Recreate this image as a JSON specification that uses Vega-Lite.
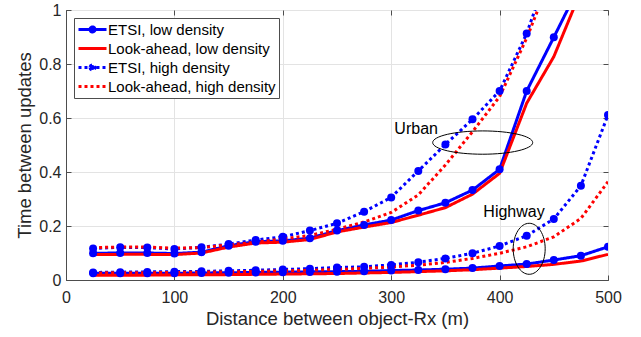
{
  "$schema": "https://vega.github.io/schema/vega-lite/v6.json",
  "width": 542,
  "height": 270,
  "autosize": {"type": "none"},
  "padding": {"left": 66, "top": 10, "right": 33, "bottom": 57},
  "background": "white",
  "config": {
    "view": {"stroke": "#4d4d4d", "strokeWidth": 1},
    "font": "Liberation Sans",
    "axis": {
      "domainColor": "#4d4d4d",
      "tickColor": "#4d4d4d",
      "gridColor": "#e3e3e3",
      "gridWidth": 1,
      "labelFont": "Liberation Sans",
      "labelFontSize": 16,
      "labelColor": "#262626",
      "titleFont": "Liberation Sans",
      "titleFontSize": 18.5,
      "titleFontWeight": "normal",
      "titleColor": "#262626",
      "tickSize": -5
    }
  },
  "datasets": {
    "curves": [
      {"x": 25, "uel": 0.099, "ull": 0.094, "ueh": 0.117, "ulh": 0.120, "hel": 0.025, "hll": 0.018, "heh": 0.028, "hlh": 0.026},
      {"x": 50, "uel": 0.100, "ull": 0.095, "ueh": 0.121, "ulh": 0.122, "hel": 0.025, "hll": 0.018, "heh": 0.029, "hlh": 0.027},
      {"x": 75, "uel": 0.100, "ull": 0.095, "ueh": 0.120, "ulh": 0.122, "hel": 0.025, "hll": 0.018, "heh": 0.030, "hlh": 0.027},
      {"x": 100, "uel": 0.098, "ull": 0.094, "ueh": 0.115, "ulh": 0.118, "hel": 0.025, "hll": 0.019, "heh": 0.031, "hlh": 0.028},
      {"x": 125, "uel": 0.103, "ull": 0.100, "ueh": 0.121, "ulh": 0.120, "hel": 0.026, "hll": 0.019, "heh": 0.032, "hlh": 0.029},
      {"x": 150, "uel": 0.127, "ull": 0.122, "ueh": 0.133, "ulh": 0.130, "hel": 0.027, "hll": 0.020, "heh": 0.034, "hlh": 0.030},
      {"x": 175, "uel": 0.142, "ull": 0.137, "ueh": 0.148, "ulh": 0.140, "hel": 0.028, "hll": 0.021, "heh": 0.036, "hlh": 0.032},
      {"x": 200, "uel": 0.145, "ull": 0.140, "ueh": 0.160, "ulh": 0.152, "hel": 0.029, "hll": 0.022, "heh": 0.039, "hlh": 0.034},
      {"x": 225, "uel": 0.155, "ull": 0.150, "ueh": 0.183, "ulh": 0.165, "hel": 0.030, "hll": 0.023, "heh": 0.042, "hlh": 0.036},
      {"x": 250, "uel": 0.183, "ull": 0.178, "ueh": 0.210, "ulh": 0.188, "hel": 0.031, "hll": 0.024, "heh": 0.046, "hlh": 0.039},
      {"x": 275, "uel": 0.204, "ull": 0.196, "ueh": 0.253, "ulh": 0.215, "hel": 0.032, "hll": 0.026, "heh": 0.049, "hlh": 0.043},
      {"x": 300, "uel": 0.222, "ull": 0.213, "ueh": 0.306, "ulh": 0.250, "hel": 0.035, "hll": 0.028, "heh": 0.056, "hlh": 0.048},
      {"x": 325, "uel": 0.257, "ull": 0.240, "ueh": 0.404, "ulh": 0.315, "hel": 0.037, "hll": 0.031, "heh": 0.066, "hlh": 0.055},
      {"x": 350, "uel": 0.286, "ull": 0.268, "ueh": 0.502, "ulh": 0.426, "hel": 0.040, "hll": 0.034, "heh": 0.080, "hlh": 0.065},
      {"x": 375, "uel": 0.333, "ull": 0.318, "ueh": 0.595, "ulh": 0.549, "hel": 0.044, "hll": 0.038, "heh": 0.099, "hlh": 0.080},
      {"x": 400, "uel": 0.410, "ull": 0.395, "ueh": 0.700, "ulh": 0.679, "hel": 0.052, "hll": 0.044, "heh": 0.126, "hlh": 0.099},
      {"x": 425, "uel": 0.700, "ull": 0.655, "ueh": 0.913, "ulh": 0.896, "hel": 0.059, "hll": 0.050, "heh": 0.164, "hlh": 0.123},
      {"x": 450, "uel": 0.899, "ull": 0.827, "ueh": 1.200, "ulh": 1.150, "hel": 0.074, "hll": 0.058, "heh": 0.226, "hlh": 0.160},
      {"x": 475, "uel": 1.100, "ull": 1.070, "ueh": 1.500, "ulh": 1.450, "hel": 0.090, "hll": 0.070, "heh": 0.349, "hlh": 0.228},
      {"x": 500, "uel": 1.300, "ull": 1.250, "ueh": 1.800, "ulh": 1.750, "hel": 0.123, "hll": 0.095, "heh": 0.611, "hlh": 0.364}
    ],
    "names": [
      {"key": "uel", "series": "ETSI, low density", "scenario": "Urban"},
      {"key": "ull", "series": "Look-ahead, low density", "scenario": "Urban"},
      {"key": "ueh", "series": "ETSI, high density", "scenario": "Urban"},
      {"key": "ulh", "series": "Look-ahead, high density", "scenario": "Urban"},
      {"key": "hel", "series": "ETSI, low density", "scenario": "Highway"},
      {"key": "hll", "series": "Look-ahead, low density", "scenario": "Highway"},
      {"key": "heh", "series": "ETSI, high density", "scenario": "Highway"},
      {"key": "hlh", "series": "Look-ahead, high density", "scenario": "Highway"}
    ],
    "notes": [
      {"label": "Urban", "tx": 323, "ty": 0.561, "ex": 384.4, "ey": 0.509},
      {"label": "Highway", "tx": 413.3, "ty": 0.253, "ex": 427.3, "ey": 0.1156}
    ]
  },
  "resolve": {"axis": {"x": "independent", "y": "independent"}},
  "layer": [
    {
      "data": {"name": "curves"},
      "transform": [
        {"fold": ["uel", "ull", "ueh", "ulh", "hel", "hll", "heh", "hlh"], "as": ["key", "y"]},
        {"lookup": "key", "from": {"data": {"name": "names"}, "key": "key", "fields": ["series", "scenario"]}}
      ],
      "mark": {"type": "line", "clip": true, "strokeWidth": 3, "strokeCap": "butt"},
      "encoding": {
        "x": {"field": "x", "type": "quantitative", "scale": {"domain": [0, 500], "nice": false},
              "axis": {"title": "Distance between object-Rx (m)", "values": [0, 100, 200, 300, 400, 500], "labelPadding": 14, "titlePadding": 4, "labelFlush": false}},
        "y": {"field": "y", "type": "quantitative", "scale": {"domain": [0, 1], "nice": false},
              "axis": {"title": "Time between updates", "values": [0, 0.2, 0.4, 0.6, 0.8, 1], "format": "~g", "labelPadding": 10, "titlePadding": 4, "labelFlush": false}},
        "color": {
          "field": "series", "type": "nominal",
          "scale": {"domain": ["ETSI, low density", "Look-ahead, low density", "ETSI, high density", "Look-ahead, high density"],
                    "range": ["#0000ff", "#ff0000", "#0000ff", "#ff0000"]},
          "legend": {
            "title": null, "orient": "top-left", "offset": 8,
            "fillColor": "white", "strokeColor": "#4d4d4d", "padding": 3,
            "labelFont": "Liberation Sans", "labelFontSize": 15, "labelColor": "#000000", "labelLimit": 300,
            "labelOffset": 14, "rowPadding": 1, "symbolSize": 196, "symbolStrokeWidth": 3,
            "encode": {
              "symbols": {
                "update": {
                  "shape": {"signal": "indexof(datum.value,'high')>=0 ? (indexof(datum.value,'ETSI')==0 ? 'M-1,0L-0.571,0M-0.143,0L0.286,0M0.714,0L1.143,0M1.571,0L2,0M2.429,0L2.857,0M0.64,0A0.36,0.36 0 1,0 1.36,0A0.36,0.36 0 1,0 0.64,0' : 'M-1,0L-0.571,0M-0.143,0L0.286,0M0.714,0L1.143,0M1.571,0L2,0M2.429,0L2.857,0') : (indexof(datum.value,'ETSI')==0 ? 'M-1,0L3,0M0.64,0A0.36,0.36 0 1,0 1.36,0A0.36,0.36 0 1,0 0.64,0' : 'M-1,0L3,0')"},
                  "fill": {"signal": "indexof(datum.value,'ETSI')==0 ? '#0000ff' : 'transparent'"},
                  "stroke": {"signal": "indexof(datum.value,'ETSI')==0 ? '#0000ff' : '#ff0000'"},
                  "strokeDash": {"signal": "[1,0]"},
                  "strokeWidth": {"value": 3},
                  "strokeCap": {"value": "butt"},
                  "opacity": {"value": 1}
                }
              }
            }
          }
        },
        "strokeDash": {
          "field": "series", "type": "nominal",
          "scale": {"domain": ["ETSI, low density", "Look-ahead, low density", "ETSI, high density", "Look-ahead, high density"],
                    "range": [[1, 0], [1, 0], [3, 3], [3, 3]]},
          "legend": null
        },
        "detail": {"field": "scenario", "type": "nominal"}
      }
    },
    {
      "data": {"name": "curves"},
      "transform": [
        {"fold": ["uel", "ueh", "hel", "heh"], "as": ["key", "y"]},
        {"lookup": "key", "from": {"data": {"name": "names"}, "key": "key", "fields": ["series", "scenario"]}}
      ],
      "mark": {"type": "point", "filled": true, "size": 64, "opacity": 1, "clip": true},
      "encoding": {
        "x": {"field": "x", "type": "quantitative", "axis": null},
        "y": {"field": "y", "type": "quantitative", "axis": null},
        "color": {"field": "series", "type": "nominal"}
      }
    },
    {
      "data": {"name": "notes"},
      "transform": [{"filter": "datum.label == 'Urban'"}],
      "mark": {"type": "point", "shape": "M-1,0A1,0.233 0 1,0 1,0A1,0.233 0 1,0 -1,0", "size": 10000, "filled": false, "stroke": "#000000", "strokeWidth": 1, "opacity": 1},
      "encoding": {
        "x": {"field": "ex", "type": "quantitative", "axis": {"orient": "top", "labels": false, "title": null, "grid": false, "domain": false, "values": [0, 100, 200, 300, 400, 500]}},
        "y": {"field": "ey", "type": "quantitative", "axis": {"orient": "right", "labels": false, "title": null, "grid": false, "domain": false, "values": [0, 0.2, 0.4, 0.6, 0.8, 1]}}
      }
    },
    {
      "data": {"name": "notes"},
      "transform": [{"filter": "datum.label == 'Highway'"}],
      "mark": {"type": "point", "shape": "M-0.627,0A0.627,1 0 1,0 0.627,0A0.627,1 0 1,0 -0.627,0", "size": 2601, "filled": false, "stroke": "#000000", "strokeWidth": 1, "opacity": 1},
      "encoding": {
        "x": {"field": "ex", "type": "quantitative", "axis": null},
        "y": {"field": "ey", "type": "quantitative", "axis": null}
      }
    },
    {
      "data": {"name": "notes"},
      "mark": {"type": "text", "font": "Liberation Sans", "fontSize": 16, "color": "#000000", "align": "center", "baseline": "middle"},
      "encoding": {
        "x": {"field": "tx", "type": "quantitative", "axis": null},
        "y": {"field": "ty", "type": "quantitative", "axis": null},
        "text": {"field": "label"}
      }
    }
  ]
}
